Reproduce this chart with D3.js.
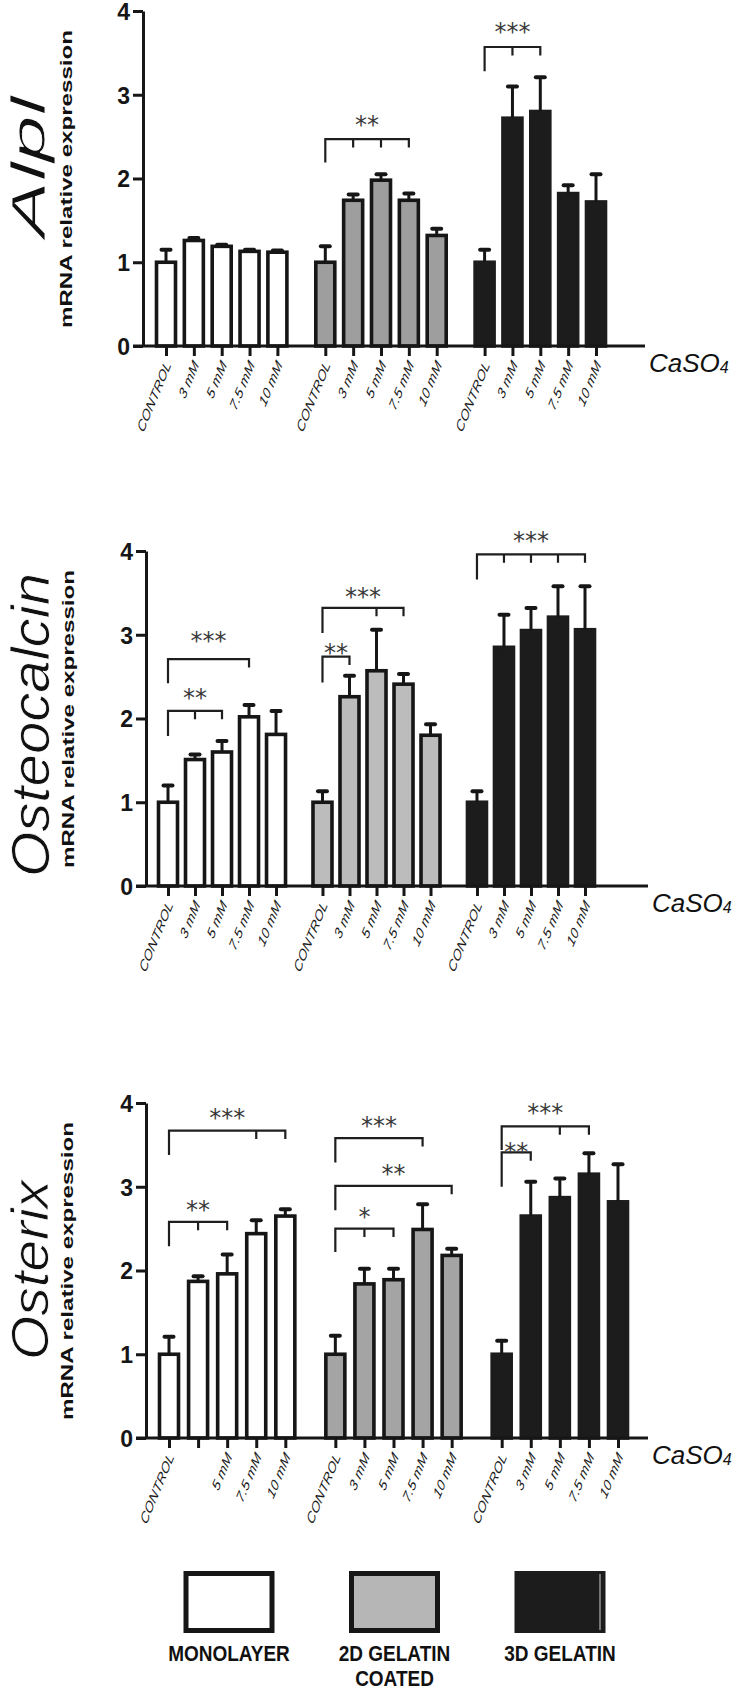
<!DOCTYPE html>
<html><head><meta charset="utf-8">
<script src="https://cdn.jsdelivr.net/npm/d3@7"></script>
<style>body{margin:0;background:#fff}svg{display:block}</style>
</head><body>
<svg id="c" width="740" height="1690"></svg>
<script>
// ---------- data ----------
const groups = ["MONOLAYER", "2D GELATIN", "3D GELATIN"];
const groupSub = ["", "COATED", ""];
const doses = ["CONTROL", "3 mM", "5 mM", "7.5 mM", "10 mM"];
const yTicks = [0, 1, 2, 3, 4];

const alplMean = [[1.00, 1.26, 1.19, 1.13, 1.12], [1.00, 1.74, 1.98, 1.74, 1.32], [1.00, 2.72, 2.80, 1.82, 1.72]];
const alplSem  = [[0.15, 0.03, 0.02, 0.02, 0.02], [0.19, 0.07, 0.07, 0.08, 0.08], [0.15, 0.38, 0.41, 0.10, 0.33]];
const ocnMean  = [[1.00, 1.51, 1.60, 2.02, 1.81], [1.00, 2.26, 2.57, 2.41, 1.80], [1.00, 2.85, 3.05, 3.21, 3.06]];
const ocnSem   = [[0.20, 0.06, 0.13, 0.14, 0.28], [0.13, 0.25, 0.49, 0.12, 0.13], [0.13, 0.39, 0.27, 0.37, 0.52]];
const osxMean  = [[1.00, 1.87, 1.96, 2.44, 2.65], [1.00, 1.84, 1.89, 2.49, 2.18], [1.00, 2.65, 2.87, 3.15, 2.82]];
const osxSem   = [[0.21, 0.06, 0.23, 0.16, 0.08], [0.22, 0.18, 0.13, 0.30, 0.08], [0.16, 0.41, 0.23, 0.25, 0.45]];

// significance brackets: group, first/last dose index, intermediate ticks, label
const alplSig = [
  {g: 1, from: 0, to: 3, ticks: [1, 2], label: "**",  y: 2.47, leg: 2.19, ly: 2.72},
  {g: 2, from: 0, to: 2, ticks: [1],    label: "***", y: 3.57, leg: 3.28, ly: 3.83}
];
const ocnSig = [
  {g: 0, from: 0, to: 3, ticks: [],        label: "***", y: 2.71, leg: 2.42, ly: 3.01},
  {g: 0, from: 0, to: 2, ticks: [1],       label: "**",  y: 2.09, leg: 1.79, ly: 2.33},
  {g: 1, from: 0, to: 1, ticks: [],        label: "**",  y: 2.74, leg: 2.43, ly: 2.87},
  {g: 1, from: 0, to: 3, ticks: [2],       label: "***", y: 3.32, leg: 3.02, ly: 3.53},
  {g: 2, from: 0, to: 4, ticks: [1, 2, 3], label: "***", y: 3.96, leg: 3.66, ly: 4.20}
];
const osxSig = [
  {g: 0, from: 0, to: 4, ticks: [3], label: "***", y: 3.67, leg: 3.38, ly: 3.91},
  {g: 0, from: 0, to: 2, ticks: [1], label: "**",  y: 2.58, leg: 2.29, ly: 2.81},
  {g: 1, from: 0, to: 3, ticks: [],  label: "***", y: 3.58, leg: 3.29, ly: 3.81},
  {g: 1, from: 0, to: 4, ticks: [],  label: "**",  y: 3.01, leg: 2.72, ly: 3.23},
  {g: 1, from: 0, to: 2, ticks: [1], label: "*",   y: 2.50, leg: 2.22, ly: 2.72},
  {g: 2, from: 0, to: 3, ticks: [2], label: "***", y: 3.72, leg: 3.44, ly: 3.97},
  {g: 2, from: 0, to: 1, ticks: [],  label: "**",  y: 3.41, leg: 3.00, ly: 3.50}
];
const alplLabels = [doses, doses, doses];
const ocnLabels  = [doses, doses, doses];
const osxLabels  = [["CONTROL", "", "5 mM", "7.5 mM", "10 mM"], doses, doses];

// ---------- layout / style ----------
const groupStep = 5.72;            // slot distance between group starts
const panels = [
  {gene: "Alpl", mean: alplMean, sem: alplSem, sig: alplSig, labels: alplLabels,
   top: 11, bottom: 346, axisX: 143, first: 166, last: 596, axisEnd: 645, gray: "#9e9e9e",
   tSize: 48, tLen: 141, tX: 45, tY: 167, mX: 72, mY: 179},
  {gene: "Osteocalcin", mean: ocnMean, sem: ocnSem, sig: ocnSig, labels: ocnLabels,
   top: 551, bottom: 886, axisX: 146, first: 168, last: 585, axisEnd: 648, gray: "#bcbcbc",
   tSize: 53, tLen: 304, tX: 49, tY: 725, mX: 74, mY: 719},
  {gene: "Osterix", mean: osxMean, sem: osxSem, sig: osxSig, labels: osxLabels,
   top: 1103, bottom: 1438, axisX: 146, first: 169, last: 618, axisEnd: 648, gray: "#a4a4a4",
   tSize: 52, tLen: 180, tX: 48, tY: 1270, mX: 73, mY: 1271}
];
const INK = "#161616";
const DARK = "#1c1c1c";
const SANS = "'Liberation Sans', Arial, Helvetica, sans-serif";

const svg = d3.select("#c");

panels.forEach(p => {
  const y = d3.scaleLinear().domain([0, 4]).range([p.bottom, p.top]);
  const x = d3.scaleLinear().domain([0, 2 * groupStep + 4]).range([p.first, p.last]);
  const slot = (g, i) => g * groupStep + i;
  const fills = ["#ffffff", p.gray, DARK];
  const gP = svg.append("g");

  // bars
  const rows = [];
  p.mean.forEach((arr, g) => arr.forEach((v, i) => rows.push({g, i, v, e: p.sem[g][i], lab: p.labels[g][i]})));
  const bw = 19;
  gP.selectAll("rect.bar").data(rows).join("rect")
    .attr("x", d => x(slot(d.g, d.i)) - bw / 2)
    .attr("y", d => y(d.v))
    .attr("width", bw)
    .attr("height", d => y(0) - y(d.v))
    .attr("fill", d => fills[d.g])
    .attr("stroke", d => d.g === 2 ? DARK : INK)
    .attr("stroke-width", 3.6);

  // error bars (upper only)
  gP.selectAll("line.err").data(rows).join("line")
    .attr("x1", d => x(slot(d.g, d.i))).attr("x2", d => x(slot(d.g, d.i)))
    .attr("y1", d => y(d.v)).attr("y2", d => y(d.v + d.e))
    .attr("stroke", INK).attr("stroke-width", 3);
  gP.selectAll("line.cap").data(rows).join("line")
    .attr("x1", d => x(slot(d.g, d.i)) - 4.5).attr("x2", d => x(slot(d.g, d.i)) + 4.5)
    .attr("y1", d => y(d.v + d.e)).attr("y2", d => y(d.v + d.e))
    .attr("stroke", INK).attr("stroke-width", 4).attr("stroke-linecap", "round");

  // y axis
  const yAx = gP.append("g").attr("transform", `translate(${p.axisX},0)`)
    .call(d3.axisLeft(y).tickValues(yTicks).tickFormat(d3.format("d")).tickSize(10).tickSizeOuter(0).tickPadding(3));
  yAx.select(".domain").attr("stroke", INK).attr("stroke-width", 3);
  yAx.selectAll(".tick line").attr("stroke", INK).attr("stroke-width", 3);
  yAx.selectAll(".tick text").attr("font-family", SANS).attr("font-weight", "bold")
    .attr("font-size", 23).attr("fill", INK).attr("dy", "0.36em");

  // x axis
  const flat = rows.map(d => slot(d.g, d.i));
  const xAx = gP.append("g").attr("transform", `translate(0,${p.bottom})`)
    .call(d3.axisBottom(x).tickValues(flat).tickFormat((d, k) => rows[k].lab).tickSize(10).tickSizeOuter(0));
  xAx.select(".domain").remove();
  xAx.selectAll(".tick line").attr("stroke", INK).attr("stroke-width", 3);
  xAx.selectAll(".tick text")
    .attr("font-family", SANS).attr("font-style", "italic").attr("font-size", 11.5).attr("fill", "#1a1a1a")
    .attr("text-anchor", "end").attr("y", 0).attr("dy", 0)
    .attr("transform", "translate(5,19) scale(1,1.4) rotate(-60)");
  gP.append("line").attr("x1", p.axisX - 10).attr("x2", p.axisEnd)
    .attr("y1", p.bottom).attr("y2", p.bottom).attr("stroke", INK).attr("stroke-width", 3);

  // CaSO4
  const ca = gP.append("text").attr("x", p.axisEnd + 4).attr("y", p.bottom + 26)
    .attr("font-family", SANS).attr("font-style", "italic").attr("font-size", 26).attr("fill", "#111");
  ca.append("tspan").text("CaSO");
  ca.append("tspan").attr("font-size", 16).attr("dy", 1).text("4");

  // significance brackets
  p.sig.forEach(s => {
    const x0 = x(slot(s.g, s.from)), x1 = x(slot(s.g, s.to));
    const yy = y(s.y), drop = y(s.y - 0.1);
    const path = d3.path();
    path.moveTo(x0, y(s.leg)); path.lineTo(x0, yy); path.lineTo(x1, yy); path.lineTo(x1, drop);
    s.ticks.forEach(t => { path.moveTo(x(slot(s.g, t)), yy); path.lineTo(x(slot(s.g, t)), drop); });
    gP.append("path").attr("d", path.toString()).attr("fill", "none").attr("stroke", "#1e1e1e").attr("stroke-width", 2.2);
    gP.append("text").attr("x", (x0 + x1) / 2).attr("y", y(s.ly) + 15)
      .attr("text-anchor", "middle").attr("font-family", "'DejaVu Sans', sans-serif")
      .attr("font-size", 24).attr("fill", "#3a3a3a").text(s.label);
  });

  // y titles (light white outline thins the glyphs a little)
  gP.append("text").attr("transform", `translate(${p.tX},${p.tY}) rotate(-90)`)
    .attr("text-anchor", "middle").attr("font-family", SANS).attr("font-style", "italic")
    .attr("font-size", p.tSize).attr("fill", "#111").attr("stroke", "#fff").attr("stroke-width", 0.8)
    .attr("textLength", p.tLen).attr("lengthAdjust", "spacingAndGlyphs").text(p.gene);
  gP.append("text").attr("transform", `translate(${p.mX},${p.mY}) rotate(-90)`)
    .attr("text-anchor", "middle").attr("font-family", SANS).attr("font-weight", "bold")
    .attr("font-size", 17).attr("fill", "#111")
    .attr("textLength", 298).attr("lengthAdjust", "spacingAndGlyphs").text("mRNA relative expression");
});

// ---------- legend ----------
const legX = d3.scalePoint().domain(groups).range([229, 560]);
const legFill = ["#ffffff", "#b6b6b6", DARK];
const lg = svg.append("g");
groups.forEach((gName, k) => {
  const cx = legX(gName);
  lg.append("rect").attr("x", cx - 43).attr("y", 1573.5).attr("width", 86).attr("height", 57)
    .attr("fill", legFill[k]).attr("stroke", k === 2 ? DARK : INK).attr("stroke-width", 5);
  const t = lg.append("text").attr("transform", `translate(${cx},1661) scale(1,1.2)`).attr("text-anchor", "middle")
    .attr("font-family", SANS).attr("font-weight", "bold").attr("font-size", 19).attr("fill", "#111");
  t.append("tspan").attr("x", 0).text(gName);
  if (groupSub[k]) t.append("tspan").attr("x", 0).attr("dy", 20.5).text(groupSub[k]);
});
lg.append("line").attr("x1", legX(groups[2]) + 40).attr("x2", legX(groups[2]) + 40)
  .attr("y1", 1574).attr("y2", 1630).attr("stroke", "#cfcfcf").attr("stroke-width", 1);
</script>
</body></html>
